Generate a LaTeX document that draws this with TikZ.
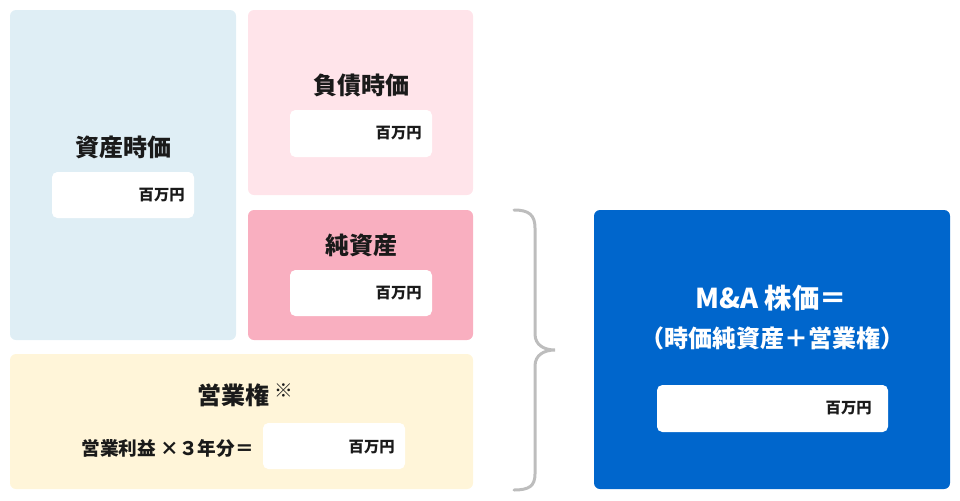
\documentclass[tikz,border=0pt]{standalone}
\usepackage{fontspec}
\setmainfont{Noto Sans CJK JP}
\usepackage{xcolor}
\definecolor{assetblue}{HTML}{DFEEF5}
\definecolor{debtpink}{HTML}{FFE4EA}
\definecolor{netpink}{HTML}{F9AFC0}
\definecolor{goodcream}{HTML}{FFF5D9}
\definecolor{priceblue}{HTML}{0066CC}
\definecolor{bracegray}{HTML}{BDBDBD}
\definecolor{inkblack}{HTML}{1A1A1A}
\tikzset{
  panel/.style={rounded corners=4.5pt},
  valuebox/.style={fill=white, rounded corners=4pt},
  heading/.style={font=\bfseries\fontsize{18}{22}\selectfont, text=inkblack, inner sep=0pt},
  unit/.style={font=\bfseries\fontsize{11.5}{14}\selectfont, text=inkblack, anchor=east, inner sep=0pt},
}

\begin{document}
\begin{tikzpicture}[x=0.75pt, y=-0.75pt]
        \useasboundingbox (0,0) rectangle (960,500);

        % the coloured panels
        \fill[panel, assetblue] (10,10) rectangle (236,340); % asset side
        \fill[panel, debtpink] (248,10) rectangle (473,195); % liabilities
        \fill[panel, netpink] (248,210) rectangle (473,340); % net assets
        \fill[panel, goodcream] (10,354) rectangle (473,489); % goodwill
        \fill[panel, priceblue] (594,210) rectangle (950,489); % result

        % white input fields
        \fill[valuebox] (52,172) rectangle (194,218);
        \fill[valuebox] (290,110) rectangle (432,157);
        \fill[valuebox] (290,270) rectangle (432,316);
        \fill[valuebox] (263,423) rectangle (405,469);
        \fill[valuebox] (657,385) rectangle (888,432);

        % headings
        \node[heading] (asset) at (123,147) {資産時価};
        \node[heading] (debt) at (361,85) {負債時価};
        \node[heading] (net) at (361,245) {純資産};
        \node[heading] (goodwill) at (233,395) {営業権};
        \node[font=\fontsize{14}{16}\selectfont, text=inkblack, inner sep=0pt] (gwnote) at (284,391) {※};
        \node[font=\bfseries\fontsize{14}{17}\selectfont, text=inkblack, anchor=east, inner sep=0pt] (formula) at (254,448) {営業利益 ×３年分＝};
        \node[heading, text=white, font=\bfseries\fontsize{20.5}{24}\selectfont] (price) at (771,298) {M\&A 株価＝};
        \node[heading, text=white] (pricesum) at (772,338) {（時価純資産＋営業権）};

        % units in the fields
        \node[unit] (assetunit) at (185,195) {百万円};
        \node[unit] (debtunit) at (422,133) {百万円};
        \node[unit] (netunit) at (422,293) {百万円};
        \node[unit] (gwunit) at (395,447) {百万円};
        \node[unit] (priceunit) at (872,408) {百万円};

        % curly brace
        \draw[bracegray, line width=2.25pt, line cap=round]
            (514,210) .. controls (529,210) and (535,215) .. (535,228)
            -- (535,334) .. controls (535,345) and (544,350) .. (555,350)
            .. controls (544,350) and (535,355) .. (535,366)
            -- (535,474) .. controls (535,486) and (529,490) .. (514,490);
\end{tikzpicture}
\end{document}
